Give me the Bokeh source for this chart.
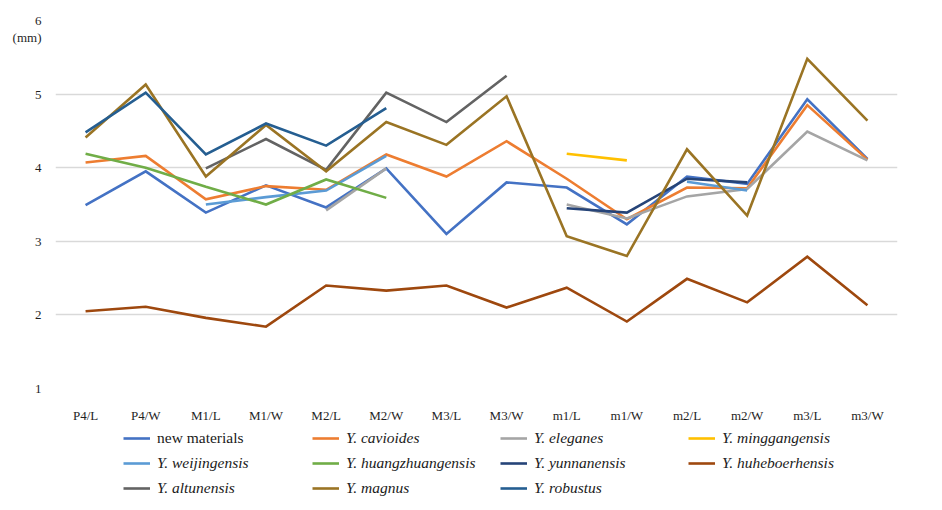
from bokeh.plotting import figure
from bokeh.layouts import column
from bokeh.models import (FactorRange, Range1d, FixedTicker, Legend, LegendItem,
                          ColumnDataSource)
from bokeh.embed import file_html
from bokeh.resources import INLINE

nan = float("nan")

categories = ["P4/L", "P4/W", "M1/L", "M1/W", "M2/L", "M2/W", "M3/L", "M3/W",
              "m1/L", "m1/W", "m2/L", "m2/W", "m3/L", "m3/W"]

new_materials = [3.49, 3.95, 3.39, 3.76, 3.46, 3.99, 3.10, 3.80, 3.73, 3.23, 3.88, 3.78, 4.93, 4.12]
cavioides = [4.07, 4.16, 3.57, 3.75, 3.70, 4.18, 3.88, 4.36, 3.85, 3.30, 3.73, 3.72, 4.85, 4.11]
eleganes = [nan, nan, nan, nan, 3.42, 3.99, nan, nan, 3.50, 3.31, 3.61, 3.71, 4.49, 4.10]
minggangensis = [nan, nan, nan, nan, nan, nan, nan, nan, 4.19, 4.10, nan, nan, nan, nan]
weijingensis = [nan, nan, 3.50, 3.60, 3.69, 4.16, nan, nan, nan, nan, 3.81, 3.69, nan, nan]
huangzhuangensis = [4.19, 4.00, 3.74, 3.50, 3.84, 3.59, nan, nan, nan, nan, nan, nan, nan, nan]
yunnanensis = [nan, nan, nan, nan, nan, nan, nan, nan, 3.45, 3.39, 3.85, 3.80, nan, nan]
huheboerhensis = [2.05, 2.11, 1.96, 1.84, 2.40, 2.33, 2.40, 2.10, 2.37, 1.91, 2.49, 2.17, 2.79, 2.13]
altunensis = [nan, nan, 3.99, 4.39, 3.97, 5.02, 4.62, 5.25, nan, nan, nan, nan, nan, nan]
magnus = [4.41, 5.13, 3.88, 4.58, 3.95, 4.62, 4.31, 4.97, 3.07, 2.80, 4.25, 3.35, 5.48, 4.64]
robustus = [4.48, 5.02, 4.18, 4.60, 4.30, 4.81, nan, nan, nan, nan, nan, nan, nan, nan]

y_ticks = [1, 2, 3, 4, 5, 6]
unit_label = "(mm)"
unit_label_pos = 5.77

series = [
    ("new materials", new_materials, "#4472C4", "normal"),
    ("Y. cavioides", cavioides, "#ED7D31", "italic"),
    ("Y. eleganes", eleganes, "#A5A5A5", "italic"),
    ("Y. minggangensis", minggangensis, "#FFC000", "italic"),
    ("Y. weijingensis", weijingensis, "#5B9BD5", "italic"),
    ("Y. huangzhuangensis", huangzhuangensis, "#70AD47", "italic"),
    ("Y. yunnanensis", yunnanensis, "#264478", "italic"),
    ("Y. huheboerhensis", huheboerhensis, "#9E480E", "italic"),
    ("Y. altunensis", altunensis, "#636363", "italic"),
    ("Y. magnus", magnus, "#9A7424", "italic"),
    ("Y. robustus", robustus, "#255E91", "italic"),
]

FONT = "Liberation Serif, serif"
W = 934

p = figure(width=W, height=425, x_range=FactorRange(factors=categories),
           y_range=Range1d(1, 6), output_backend="svg", toolbar_location=None,
           min_border_left=55, min_border_right=37, min_border_top=20,
           min_border_bottom=36)
p.outline_line_color = None
p.border_fill_color = "white"

p.xgrid.grid_line_color = None
p.ygrid.grid_line_color = "#d9d9d9"
p.ygrid.grid_line_width = 1.5
p.ygrid.ticker = FixedTicker(ticks=y_ticks)
p.yaxis.ticker = FixedTicker(ticks=y_ticks + [unit_label_pos])
p.yaxis.major_label_overrides = {unit_label_pos: unit_label}

for ax in (p.xaxis[0], p.yaxis[0]):
    ax.axis_line_color = None
    ax.major_tick_line_color = None
    ax.minor_tick_line_color = None
    ax.major_label_text_font = FONT
    ax.major_label_text_font_size = "13px"
    ax.major_label_text_color = "#1f1f1f"
p.xaxis.major_label_standoff = 13
p.yaxis.major_label_standoff = 8

for name, vals, color, style in series:
    src = ColumnDataSource(dict(x=categories, y=vals))
    p.line("x", "y", source=src, line_color=color, line_width=2.6,
           line_join="miter")

# legend panel below the chart (legend-key renderers kept outside the visible range)
lg = figure(width=W, height=77, output_backend="svg", toolbar_location=None,
            x_axis_location=None, y_axis_location=None,
            min_border=0, x_range=Range1d(0, 1), y_range=Range1d(0, 1))
lg.outline_line_color = None
lg.grid.grid_line_color = None
lg.border_fill_color = "white"

# column() aligns this frame with the chart frame (x offset 55)
col_x = [68, 257, 445, 633]
row_y = [55.5, 30.3, 5]
for i, (name, vals, color, style) in enumerate(series):
    row, col = divmod(i, 4)
    r = lg.line(x=[-5, -4], y=[-5, -4], line_color=color, line_width=2.6)
    leg = Legend(items=[LegendItem(label=name, renderers=[r])],
                 location=(col_x[col], row_y[row]), orientation="horizontal",
                 padding=0, margin=0, spacing=0, glyph_width=27, glyph_height=18,
                 label_height=18, label_standoff=7, border_line_color=None,
                 background_fill_alpha=0, label_text_font=FONT,
                 label_text_font_size="15.5px", label_text_font_style=style,
                 label_text_color="#1a1a1a")
    lg.add_layout(leg)

layout = column(p, lg, spacing=0)
open("out.html", "w").write(file_html(layout, INLINE))
